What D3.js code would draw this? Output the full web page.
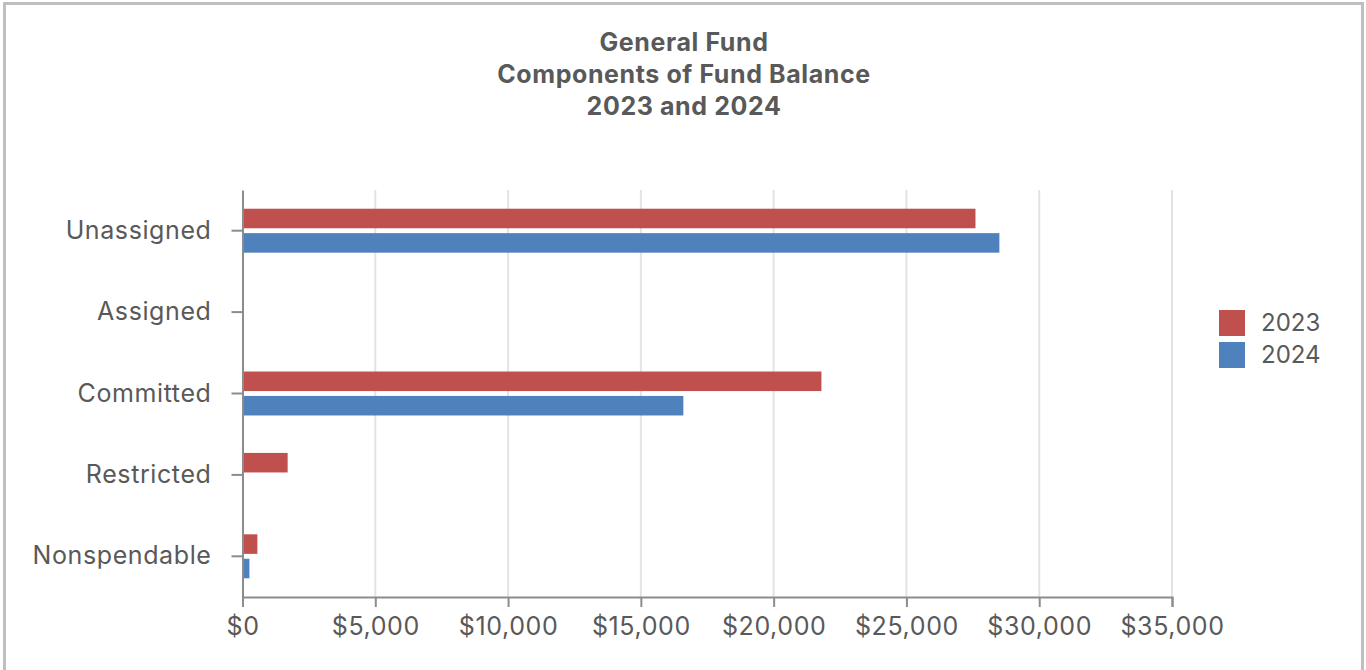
<!DOCTYPE html>
<html>
<head>
<meta charset="utf-8">
<script src="https://cdn.jsdelivr.net/npm/d3@7"></script>
<style>
  html, body { margin: 0; padding: 0; background: #fff; }
  svg { display: block; }
  text { font-family: Inter, "Noto Sans", sans-serif; fill: #595959; }
</style>
</head>
<body>
<svg id="chart" width="1366" height="670"></svg>
<script>
// Fund balance components (in thousands of dollars)
const categories = ["Unassigned", "Assigned", "Committed", "Restricted", "Nonspendable"];
const seriesNames = ["2023", "2024"];
const values2023 = [27600, 0, 21800, 1700, 560];
const values2024 = [28500, 0, 16600, 0, 260];
const xTicks = [0, 5000, 10000, 15000, 20000, 25000, 30000, 35000];
const titleLines = ["General Fund", "Components of Fund Balance", "2023 and 2024"];
const colors = ["#C0504D", "#4F81BD"];

const svg = d3.select("#chart");
const W = 1366, H = 670;

// outer frame
svg.append("rect")
  .attr("x", 4.5).attr("y", 3.5)
  .attr("width", W - 8).attr("height", H + 10)
  .attr("fill", "#fff").attr("stroke", "#bfbfbf").attr("stroke-width", 3);

const plot = { left: 242.5, right: 1172, top: 190, bottom: 597 };

const x = d3.scaleLinear().domain([0, 35000]).range([plot.left, plot.right]);
const y = d3.scaleBand().domain(categories).range([plot.top, plot.bottom])
  .paddingInner(0.46).paddingOuter(0.23);
const ySub = d3.scaleBand().domain(seriesNames).range([0, y.bandwidth()]).paddingInner(0.2);

// title
svg.append("g").selectAll("text").data(titleLines).join("text")
  .attr("x", 684).attr("y", (d, i) => 51 + i * 32)
  .attr("text-anchor", "middle")
  .attr("font-size", 25).attr("font-weight", 700)
  .attr("letter-spacing", 0.6)
  .text(d => d);

// vertical gridlines
svg.append("g").selectAll("line").data(xTicks.slice(1)).join("line")
  .attr("x1", d => x(d)).attr("x2", d => x(d))
  .attr("y1", plot.top).attr("y2", plot.bottom)
  .attr("stroke", "#e3e3e3").attr("stroke-width", 2);

// bars
const rows = categories.map((c, i) => ({ cat: c, vals: [values2023[i], values2024[i]] }));
const groups = svg.append("g").selectAll("g").data(rows).join("g")
  .attr("transform", d => `translate(0,${y(d.cat)})`);
groups.selectAll("rect")
  .data(d => d.vals.map((v, j) => ({ v, s: seriesNames[j], c: colors[j] })).filter(e => e.v > 0))
  .join("rect")
  .attr("x", x(0))
  .attr("y", d => ySub(d.s))
  .attr("width", d => x(d.v) - x(0))
  .attr("height", ySub.bandwidth())
  .attr("fill", d => d.c);

// x axis
const xAxis = d3.axisBottom(x).tickValues(xTicks)
  .tickFormat(d => "$" + d3.format(",")(d)).tickSize(10).tickPadding(10);
const gx = svg.append("g").attr("transform", `translate(0,${plot.bottom})`).call(xAxis);
gx.select(".domain").attr("stroke", "#8c8c8c").attr("stroke-width", 2);
gx.selectAll(".tick line").attr("stroke", "#8c8c8c").attr("stroke-width", 2);
gx.selectAll(".tick text").attr("font-size", 25).attr("fill", "#595959")
  .attr("letter-spacing", 0.6)
  .style("font-family", "Inter, sans-serif");

// y axis
const yAxis = d3.axisLeft(y).tickSize(11).tickPadding(20).tickSizeOuter(0);
const gy = svg.append("g").attr("transform", `translate(${plot.left},0)`).call(yAxis);
gy.select(".domain").attr("stroke", "#8c8c8c").attr("stroke-width", 2);
gy.selectAll(".tick line").attr("stroke", "#8c8c8c").attr("stroke-width", 2);
gy.selectAll(".tick text").attr("font-size", 25).attr("fill", "#595959")
  .attr("letter-spacing", 0.6)
  .style("font-family", "Inter, sans-serif");

// legend
const legend = svg.append("g").attr("transform", "translate(1219,310)");
const li = legend.selectAll("g").data(seriesNames).join("g")
  .attr("transform", (d, i) => `translate(0,${i * 32})`);
li.append("rect").attr("width", 26).attr("height", 26).attr("fill", (d, i) => colors[i]);
li.append("text").attr("x", 42).attr("y", 13).attr("dy", "0.35em")
  .attr("font-size", 24).text(d => d);
</script>
</body>
</html>
